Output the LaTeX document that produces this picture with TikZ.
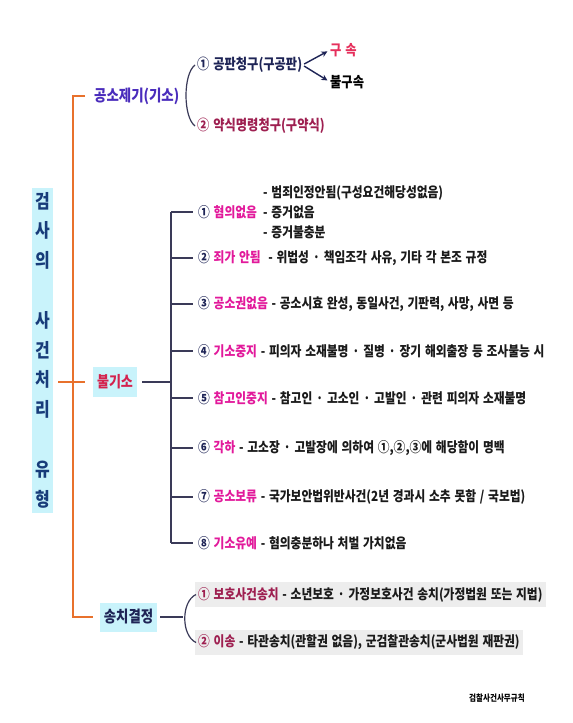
\documentclass[tikz,border=0pt]{standalone}
\usepackage{fontspec}
\setmainfont{Noto Sans CJK KR}[FakeStretch=0.84, WordSpace=1.4]
\usetikzlibrary{arrows.meta}
\definecolor{navyc}{HTML}{1E2456}
\definecolor{titlec}{HTML}{183C7A}
\definecolor{magc}{HTML}{E2199B}
\definecolor{maroonc}{HTML}{9E1F50}
\definecolor{gongc}{HTML}{4A2CBC}
\definecolor{redc}{HTML}{E6305C}
\definecolor{bulc}{HTML}{D4224E}
\definecolor{cyanc}{HTML}{C9F3FB}
\definecolor{grayc}{HTML}{EDEDED}
\definecolor{orangec}{HTML}{E8712C}
\definecolor{linec}{HTML}{3A3A58}
\definecolor{textc}{HTML}{1A1A1A}
\newcommand\cnum[1]{{\color{navyc}#1}}
\newcommand\ckey[1]{{\color{magc}#1}}
\tikzset{
  txt/.style={inner sep=0pt, anchor=west},
  itemtxt/.style={txt, text=textc, font=\bfseries\fontsize{14}{16}\selectfont},
  cyanbox/.style={fill=cyanc, inner sep=0pt},
  graybox/.style={fill=grayc, inner xsep=3pt, inner ysep=0pt, minimum height=25pt, anchor=west},
  orangeline/.style={draw=orangec, line width=1.8pt},
  navyline/.style={draw=linec, line width=1.6pt},
  arcline/.style={draw=linec, line width=1.2pt},
  arr/.style={draw=navyc, line width=1.4pt, -{Stealth[length=6pt,width=6pt]}, shorten <=2pt, shorten >=3pt}
}
\begin{document}
\begin{tikzpicture}[x=1pt,y=-1pt]
\useasboundingbox[fill=white] (0,0) rectangle (573,723);

% title
\node[cyanbox, minimum width=21pt, minimum height=325pt, text=titlec, align=center,
  font=\bfseries\fontsize{19}{29.8}\selectfont] (title) at (42.5,350)
  {검\\사\\의\\[29.8pt]사\\건\\처\\리\\[29.8pt]유\\형};

% top branch
\node[txt, text=gongc, font=\bfseries\fontsize{16}{18}\selectfont] (gongso) at (94,96) {공소제기(기소)};
\node[txt, text=navyc, font=\bfseries\fontsize{14.6}{16}\selectfont] (gp1) at (197,65) {① 공판청구(구공판)};
\node[txt, text=maroonc, font=\bfseries\fontsize{14.6}{16}\selectfont] (gp2) at (197,126) {② 약식명령청구(구약식)};
\node[txt, text=redc, font=\bfseries\fontsize{14.6}{16}\selectfont] (gusok) at (330,50) {구 속};
\node[txt, text=black, font=\bfseries\fontsize{14.6}{16}\selectfont] (bulgusok) at (330,82) {불구속};
\draw[arcline] ([xshift=-2pt]gp1.west) .. controls +(-12,9) and +(-12,-9) .. ([xshift=-2pt]gp2.west);
\draw[arr] (gp1.east) -- (gusok.west);
\draw[arr] (gp1.east) -- (bulgusok.west);

% 불기소
\node[cyanbox, minimum width=44pt, minimum height=30pt, text=bulc, font=\bfseries\fontsize{15.5}{17}\selectfont] (bulgiso) at (115,382) {불기소};
\coordinate (brk) at (171,382);

\node[itemtxt] (it1) at (198,212) {\cnum{①} \ckey{혐의없음}};
\node[itemtxt, align=left, font=\bfseries\fontsize{14}{20}\selectfont] (d1) at (263,212) {- 범죄인정안됨(구성요건해당성없음)\\- 증거없음\\- 증거불충분};
\node[itemtxt] (it2) at (198,258) {\cnum{②} \ckey{죄가 안됨}\ \ - 위법성 · 책임조각 사유, 기타 각 본조 규정};
\node[itemtxt] (it3) at (198,304) {\cnum{③} \ckey{공소권없음} - 공소시효 완성, 동일사건, 기판력, 사망, 사면 등};
\node[itemtxt] (it4) at (198,351) {\cnum{④} \ckey{기소중지} - 피의자 소재불명 · 질병 · 장기 해외출장 등 조사불능 시};
\node[itemtxt] (it5) at (198,398) {\cnum{⑤} \ckey{참고인중지} - 참고인 · 고소인 · 고발인 · 관련 피의자 소재불명};
\node[itemtxt] (it6) at (198,448) {\cnum{⑥} \ckey{각하} - 고소장 · 고발장에 의하여 ①,②,③에 해당함이 명백};
\node[itemtxt] (it7) at (198,497) {\cnum{⑦} \ckey{공소보류} - 국가보안법위반사건(2년 경과시 소추 못함 / 국보법)};
\node[itemtxt] (it8) at (198,543) {\cnum{⑧} \ckey{기소유예} - 혐의충분하나 처벌 가치없음};

\draw[navyline] ([xshift=5pt]bulgiso.east) -- (brk);
\draw[navyline] (brk |- it1.west) -- (brk |- it8.west);
\foreach \i in {1,...,8} {
  \draw[navyline] (brk |- it\i.west) -- ([xshift=-5pt]it\i.west);
}

% 송치결정
\node[cyanbox, minimum width=57pt, minimum height=29pt, text=navyc, font=\bfseries\fontsize{16}{18}\selectfont] (songchi) at (128.5,617) {송치결정};
\node[graybox, font=\bfseries\fontsize{14}{16}\selectfont] (s1) at (195,594.5) {{\color{maroonc}① 보호사건송치} {\color{textc}- 소년보호 · 가정보호사건 송치(가정법원 또는 지법)}};
\node[graybox, font=\bfseries\fontsize{14}{16}\selectfont] (s2) at (195,642.5) {{\color{maroonc}② 이송} {\color{textc}- 타관송치(관할권 없음), 군검찰관송치(군사법원 재판권)}};
\coordinate (sarc) at (183,617);
\draw[arcline] ([xshift=1pt]s1.west) .. controls +(-15,7) and +(-15,-7) .. ([xshift=1pt]s2.west);
\draw[navyline] ([xshift=3pt]songchi.east) -- (sarc);

% trunk
\coordinate (tTop) at (73,96);
\coordinate (tBot) at (73,617);
\draw[orangeline, shorten <=9pt, shorten >=7pt] (gongso.west) -- (tTop) -- (tBot) -- (songchi.west);
\draw[orangeline, shorten <=5pt, shorten >=8pt] (title.east |- bulgiso.west) -- (bulgiso.west);

% source
\node[txt, anchor=center, text=black, font=\bfseries\fontsize{9}{10}\selectfont] (src) at (497,698) {검찰사건사무규칙};
\end{tikzpicture}
\end{document}
